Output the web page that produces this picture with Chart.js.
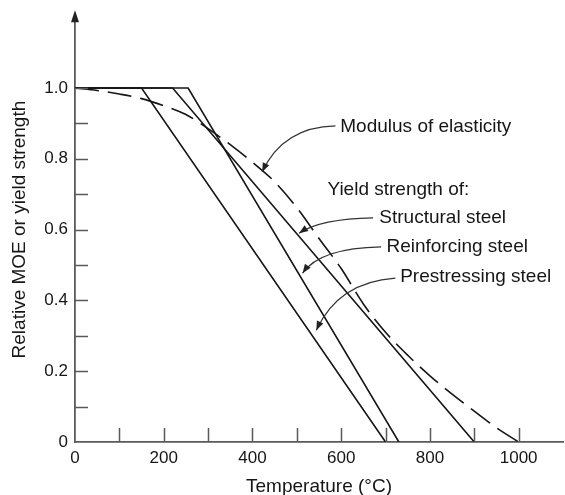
<!DOCTYPE html>
<html>
<head>
<meta charset="utf-8">
<script src="https://cdn.jsdelivr.net/npm/chart.js@4.4.0/dist/chart.umd.min.js"></script>
<style>
  html, body { margin: 0; padding: 0; background: #fff; }
  #wrap { width: 565px; height: 495px; }
</style>
</head>
<body>
<div id="wrap"><canvas id="chart"></canvas></div>
<script>
// Modulus of elasticity (dashed curve)
const moeTemp  = [0, 50, 100, 150, 200, 250, 300, 350, 400, 450, 500, 550, 600, 650, 700, 750, 800, 850, 900, 950, 1000];
const moeValue = [1.0, 0.993, 0.983, 0.97, 0.95, 0.925, 0.885, 0.84, 0.79, 0.735, 0.662, 0.575, 0.49, 0.39, 0.31, 0.245, 0.187, 0.135, 0.087, 0.04, 0];

// Yield strength, piecewise linear
const structTemp  = [0, 220, 900];
const structValue = [1, 1, 0];
const reinfTemp   = [0, 255, 730];
const reinfValue  = [1, 1, 0];
const prestTemp   = [0, 150, 700];
const prestValue  = [1, 1, 0];

// Axis ticks
const xTicks = [0, 100, 200, 300, 400, 500, 600, 700, 800, 900, 1000];
const yTicks = [0, 0.1, 0.2, 0.3, 0.4, 0.5, 0.6, 0.7, 0.8, 0.9, 1.0];

const INK = '#161616';
const AXIS = '#5a5a5a';
const FONT = "'Liberation Sans', Arial, sans-serif";

// Callout labels with curved leader arrows (in data units)
const callouts = [
    { text: 'Modulus of elasticity', at: [598, 0.89], from: [587, 0.893], ctrl: [469, 0.89], tip: [422, 0.763] },
    { text: 'Yield strength of:',    at: [569, 0.712] },
    { text: 'Structural steel',      at: [686, 0.633], from: [672, 0.633], ctrl: [553, 0.63], tip: [505, 0.59] },
    { text: 'Reinforcing steel',     at: [702, 0.551], from: [690, 0.551], ctrl: [553, 0.548], tip: [513, 0.477] },
    { text: 'Prestressing steel',    at: [733, 0.466], from: [722, 0.463], ctrl: [594, 0.452], tip: [544, 0.316] },
];

const pts = (xs, ys) => xs.map((x, i) => ({ x, y: ys[i] }));

const line = (data, extra) => Object.assign({
    data,
    borderColor: INK,
    borderWidth: 1.6,
    pointRadius: 0,
    fill: false,
    tension: 0,
}, extra);

/** Inward tick marks, y-axis arrowhead and callouts */
const decor = {
    id: 'decor',
    afterDatasetsDraw(chart) {
        const { ctx, chartArea: a, scales: { x, y } } = chart;
        ctx.save();

        ctx.strokeStyle = AXIS;
        ctx.lineWidth = 1.5;
        ctx.beginPath();
        xTicks.forEach(t => {
            if (t === 0) return;
            const px = Math.round(x.getPixelForValue(t)) + 0.5;
            ctx.moveTo(px, a.bottom);
            ctx.lineTo(px, a.bottom - 14);
        });
        yTicks.forEach(t => {
            if (t === 0) return;
            const py = Math.round(y.getPixelForValue(t)) + 0.5;
            ctx.moveTo(a.left, py);
            ctx.lineTo(a.left + 13, py);
        });
        ctx.stroke();

        // arrowhead on top of the y axis
        ctx.fillStyle = '#222';
        ctx.beginPath();
        ctx.moveTo(a.left, a.top - 7);
        ctx.lineTo(a.left - 4, a.top + 5);
        ctx.lineTo(a.left + 4, a.top + 5);
        ctx.closePath();
        ctx.fill();

        ctx.font = '19px ' + FONT;
        ctx.textBaseline = 'middle';
        ctx.textAlign = 'left';
        callouts.forEach(c => {
            ctx.fillStyle = INK;
            ctx.fillText(c.text, x.getPixelForValue(c.at[0]), y.getPixelForValue(c.at[1]));
            if (!c.tip) return;
            const sx = x.getPixelForValue(c.from[0]), sy = y.getPixelForValue(c.from[1]);
            const cx = x.getPixelForValue(c.ctrl[0]), cy = y.getPixelForValue(c.ctrl[1]);
            const tx = x.getPixelForValue(c.tip[0]),  ty = y.getPixelForValue(c.tip[1]);
            ctx.strokeStyle = '#333';
            ctx.lineWidth = 1.2;
            ctx.beginPath();
            ctx.moveTo(sx, sy);
            ctx.quadraticCurveTo(cx, cy, tx, ty);
            ctx.stroke();
            const ang = Math.atan2(ty - cy, tx - cx);
            ctx.fillStyle = '#222';
            ctx.beginPath();
            ctx.moveTo(tx, ty);
            ctx.lineTo(tx - 9 * Math.cos(ang) + 3.5 * Math.sin(ang), ty - 9 * Math.sin(ang) - 3.5 * Math.cos(ang));
            ctx.lineTo(tx - 9 * Math.cos(ang) - 3.5 * Math.sin(ang), ty - 9 * Math.sin(ang) + 3.5 * Math.cos(ang));
            ctx.closePath();
            ctx.fill();
        });
        ctx.restore();
    }
};

Chart.defaults.font.family = FONT;
Chart.defaults.color = INK;

new Chart(document.getElementById('chart'), {
    type: 'line',
    data: {
        datasets: [
            line(pts(moeTemp, moeValue), { borderDash: [24, 9], cubicInterpolationMode: 'monotone' }),
            line(pts(structTemp, structValue)),
            line(pts(reinfTemp, reinfValue)),
            line(pts(prestTemp, prestValue)),
        ]
    },
    options: {
        responsive: true,
        maintainAspectRatio: false,
        animation: false,
        layout: { padding: { top: 17, right: 2, left: 0, bottom: 0 } },
        plugins: { legend: { display: false }, tooltip: { enabled: false } },
        scales: {
            x: {
                type: 'linear',
                min: 0,
                max: 1100,
                afterBuildTicks: s => { s.ticks = xTicks.map(v => ({ value: v })); },
                afterFit: s => { s.height = 53; },
                grid: { display: false, drawTicks: false },
                border: { display: true, color: AXIS, width: 1.8 },
                ticks: {
                    padding: 6,
                    maxRotation: 0,
                    autoSkip: false,
                    font: { size: 17 },
                    color: INK,
                    callback: v => (v % 200 === 0 ? String(v) : ''),
                },
                title: { display: true, text: 'Temperature (°C)', font: { size: 19 }, color: INK, padding: { top: -3, bottom: -3 } },
            },
            y: {
                type: 'linear',
                min: 0,
                max: 1.2,
                afterBuildTicks: s => { s.ticks = yTicks.map(v => ({ value: v })); },
                afterFit: s => { s.width = 75; },
                grid: { display: false, drawTicks: false },
                border: { display: true, color: AXIS, width: 1.8 },
                ticks: {
                    padding: 7,
                    autoSkip: false,
                    font: { size: 17 },
                    color: INK,
                    callback: (v, i) => (i % 2 === 0 ? (v === 0 ? '0' : v.toFixed(1)) : ''),
                },
                title: { display: true, text: 'Relative MOE or yield strength', font: { size: 19 }, color: INK, padding: { top: 8, bottom: 0 } },
            },
        },
    },
    plugins: [decor],
});
</script>
</body>
</html>
